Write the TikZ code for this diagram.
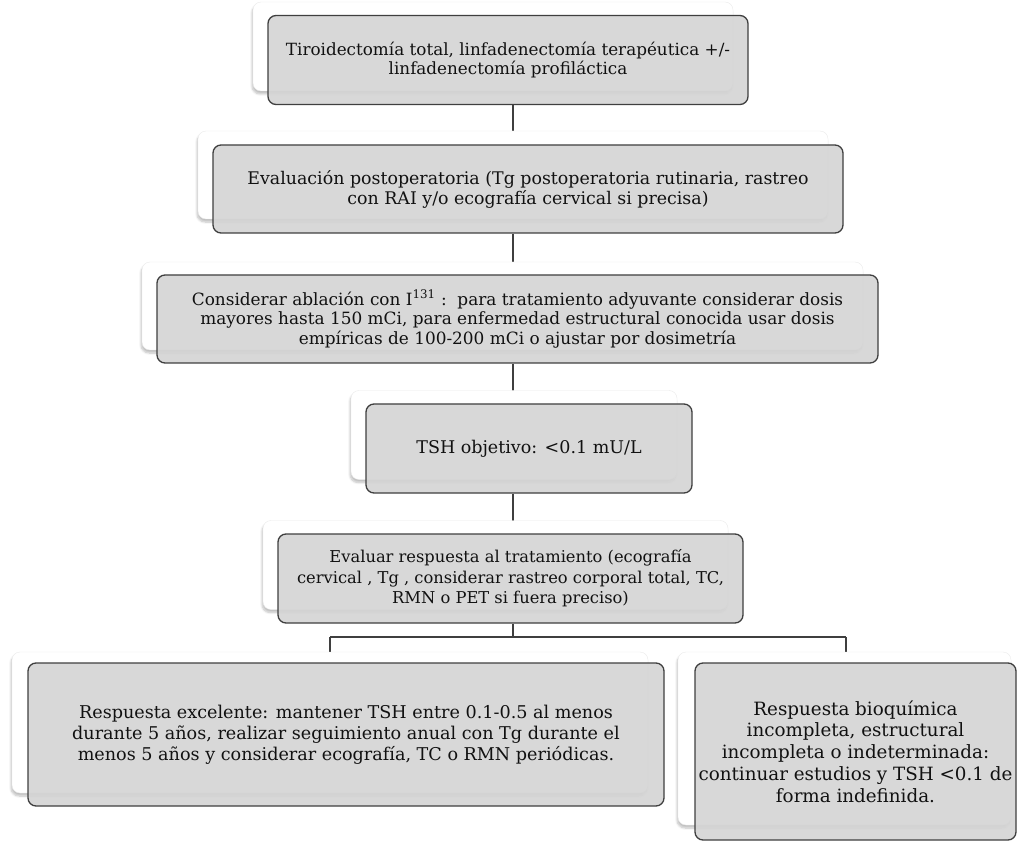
\documentclass[tikz,border=0pt]{standalone}
\usepackage{fontspec}
\setmainfont{DejaVu Serif}
\usetikzlibrary{shadows.blur}
\pgfdeclarelayer{bg}
\pgfsetlayers{bg,main}
\definecolor{boxfill}{HTML}{D4D4D4}
\definecolor{boxline}{HTML}{3F3F3F}
\definecolor{txt}{HTML}{111111}
\tikzset{
  gbox/.style={draw=boxline, fill=boxfill, fill opacity=0.9, text opacity=1, line width=1.3pt,
    rounded corners=8pt, inner sep=0pt, align=center, text=txt},
  wbox/.style={draw=black!8, fill=white, line width=0.4pt, rounded corners=8pt, inner sep=0pt,
    blur shadow={shadow xshift=-1pt, shadow yshift=-3pt, shadow opacity=25, shadow blur steps=6}},
  conn/.style={draw=boxline, line width=1.4pt},
  fs/.style 2 args={font=\fontsize{#1}{#2}\selectfont}
}
\begin{document}
\begin{tikzpicture}[x=1pt,y=-1pt]
\useasboundingbox (0,0) rectangle (1018,842);
% shadow boxes
\node[wbox, minimum width=480pt, minimum height=89pt] (s1) at (493,46.5) {};
\node[wbox, minimum width=630pt, minimum height=88pt] (s2) at (513,175) {};
\node[wbox, minimum width=721pt, minimum height=88pt] (s3) at (502.5,306) {};
\node[wbox, minimum width=326pt, minimum height=89pt] (s4) at (514,435) {};
\node[wbox, minimum width=465pt, minimum height=89pt] (s5) at (495.5,565) {};
\node[wbox, minimum width=636pt, minimum height=141pt] (s6) at (330,722.5) {};
\node[wbox, minimum width=333pt, minimum height=173pt] (s7) at (844.5,738.5) {};
% main boxes
\node[gbox, fs={16.8}{18.5}, minimum width=480pt, minimum height=89pt] (b1) at (508,60)
  {Tiroidectomía total, linfadenectomía terapéutica +/-\\linfadenectomía profiláctica};
\node[gbox, fs={17.4}{20}, minimum width=630pt, minimum height=88pt] (b2) at (528,189)
  {Evaluación postoperatoria (Tg postoperatoria rutinaria, rastreo\\con RAI y/o ecografía cervical si precisa)};
\node[gbox, fs={16.9}{19.5}, minimum width=721pt, minimum height=88pt] (b3) at (517.5,319)
  {Considerar ablación con I\textsuperscript{131} :\ \ para tratamiento adyuvante considerar dosis\\mayores hasta 150 mCi, para enfermedad estructural conocida usar dosis\\empíricas de 100-200 mCi o ajustar por dosimetría};
\node[gbox, fs={17.5}{20}, minimum width=326pt, minimum height=89pt] (b4) at (529,448.5)
  {TSH objetivo: <0.1 mU/L};
\node[gbox, fs={16.3}{20.5}, minimum width=465pt, minimum height=89pt] (b5) at (510.5,578.5)
  {Evaluar respuesta al tratamiento (ecografía\\cervical , Tg , considerar rastreo corporal total, TC,\\RMN o PET si fuera preciso)};
\node[gbox, fs={17.6}{21}, minimum width=636pt, minimum height=143pt] (b6) at (346,734.5)
  {Respuesta excelente: mantener TSH entre 0.1-0.5 al menos\\durante 5 años, realizar seguimiento anual con Tg durante el\\menos 5 años y considerar ecografía, TC o RMN periódicas.};
\node[gbox, fs={18.3}{21.7}, minimum width=321pt, minimum height=177pt] (b7) at (855.5,751.5)
  {Respuesta bioquímica\\incompleta, estructural\\incompleta o indeterminada:\\continuar estudios y TSH <0.1 de\\forma indefinida.};
% junction coordinates
\coordinate (sp) at (513,0);
\coordinate (jn) at (513,637);
\coordinate (jl) at (330,637);
\coordinate (jr) at (846,637);
\begin{pgfonlayer}{bg}
\draw[conn] (b1.south -| sp) -- (b2.north -| sp);
\draw[conn] (b2.south -| sp) -- (b3.north -| sp);
\draw[conn] (b3.south -| sp) -- (b4.north -| sp);
\draw[conn] (b4.south -| sp) -- (b5.north -| sp);
\draw[conn] (b5.south -| jn) -- (jn);
\draw[conn] (jl) -- (jr);
\draw[conn] (jl) -- (b6.north -| jl);
\draw[conn] (jr) -- (b7.north -| jr);
\end{pgfonlayer}
\end{tikzpicture}
\end{document}
